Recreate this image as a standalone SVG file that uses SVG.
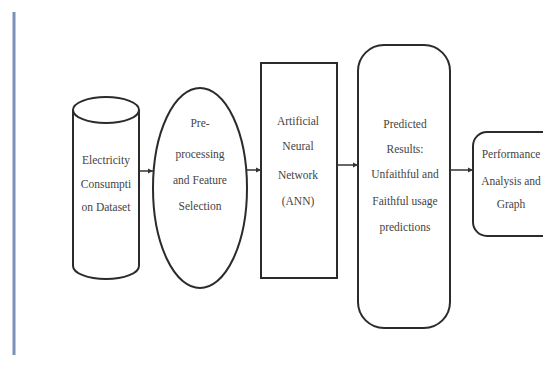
<svg xmlns="http://www.w3.org/2000/svg" width="543" height="378" viewBox="0 0 543 378">
<defs>
<marker id="ah" markerWidth="6" markerHeight="6" refX="5" refY="3" orient="auto" markerUnits="userSpaceOnUse">
<path d="M0,0.5 L5,3 L0,5.5 Z" fill="#333"/>
</marker>
<style>
.s{fill:#fff;stroke:#2b2b2b;stroke-width:2}
.t{font-size:11.5px;fill:#444;text-anchor:middle}
.c{stroke:#333;stroke-width:1.5;fill:none}
</style>
</defs>
<rect width="543" height="378" fill="#fff"/>
<line x1="14" y1="12" x2="14" y2="355" stroke="#7d90b8" stroke-width="3"/>
<g font-family="Liberation Serif, DejaVu Serif, serif">
<g id="dataset">
<path class="s" d="M73,110 V266 A33,13 0 0 0 139,266 V110"/>
<ellipse class="s" cx="106" cy="110" rx="33" ry="13"/>
<text class="t" x="106" y="164">Electricity</text>
<text class="t" x="106" y="188">Consumpti</text>
<text class="t" x="106" y="211">on Dataset</text>
</g>
<g id="preprocessing">
<ellipse class="s" cx="200" cy="188" rx="47" ry="100"/>
<text class="t" x="200" y="127">Pre-</text>
<text class="t" x="200" y="158">processing</text>
<text class="t" x="200" y="184">and Feature</text>
<text class="t" x="200" y="210">Selection</text>
</g>
<g id="ann">
<rect class="s" x="261" y="63" width="76" height="215" stroke-width="2.5"/>
<text class="t" x="298" y="125">Artificial</text>
<text class="t" x="298" y="150">Neural</text>
<text class="t" x="298" y="179">Network</text>
<text class="t" x="298" y="205">(ANN)</text>
</g>
<g id="results">
<rect class="s" x="358" y="45" width="92" height="283" rx="26" ry="26"/>
<text class="t" x="405" y="128">Predicted</text>
<text class="t" x="405" y="153">Results:</text>
<text class="t" x="405" y="178">Unfaithful and</text>
<text class="t" x="405" y="205">Faithful usage</text>
<text class="t" x="405" y="231">predictions</text>
</g>
<g id="performance">
<rect class="s" x="473" y="132" width="90" height="104" rx="14" ry="14"/>
<text class="t" x="511" y="158">Performance</text>
<text class="t" x="511" y="185">Analysis and</text>
<text class="t" x="511" y="208">Graph</text>
</g>
</g>
<g id="connectors">
<line class="c" x1="139" y1="171" x2="153" y2="171" marker-end="url(#ah)"/>
<line class="c" x1="247" y1="170" x2="261" y2="170" marker-end="url(#ah)"/>
<line class="c" x1="337" y1="165" x2="358" y2="165" marker-end="url(#ah)"/>
<line class="c" x1="450" y1="170" x2="473" y2="170" marker-end="url(#ah)"/>
</g>
</svg>
